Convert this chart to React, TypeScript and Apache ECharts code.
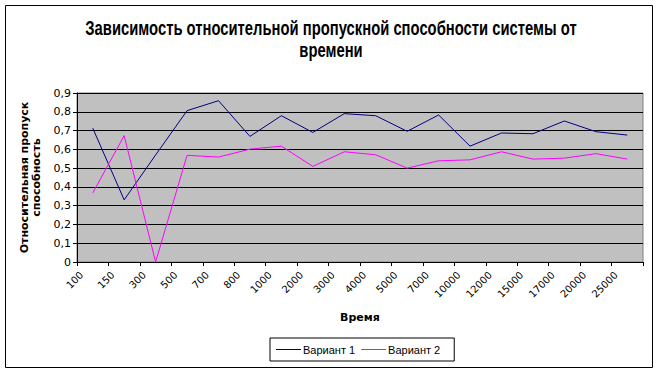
import React, { useEffect, useRef } from "react";
import * as echarts from "echarts";

const categories = ["100", "150", "300", "500", "700", "800", "1000", "2000", "3000", "4000", "5000", "7000", "10000", "12000", "15000", "17000", "20000", "25000"];
const variant1 = [0.713, 0.331, 0.57, 0.806, 0.859, 0.669, 0.779, 0.69, 0.79, 0.779, 0.696, 0.783, 0.617, 0.687, 0.683, 0.751, 0.694, 0.676];
const variant2 = [0.367, 0.673, 0.0, 0.568, 0.559, 0.601, 0.617, 0.509, 0.587, 0.571, 0.5, 0.539, 0.544, 0.587, 0.548, 0.553, 0.577, 0.548];
const titleLines = ["Зависимость относительной пропускной способности системы от", "времени"];
const seriesNames = ["Вариант 1", "Вариант 2"];

const TITLE_FONT = 'bold 21px "Liberation Sans", Arial, sans-serif';

function measure(text: string, font: string): number {
  const c = document.createElement("canvas");
  const ctx = c.getContext("2d");
  if (!ctx) return text.length * 11;
  ctx.font = font;
  return ctx.measureText(text).width;
}

export default function App() {
  const ref = useRef<HTMLDivElement>(null);
  useEffect(() => {
    document.body.style.margin = "0";
    if (!ref.current) return;
    const chart = echarts.init(ref.current, null, { renderer: "svg" });
    const w1 = measure(titleLines[0], TITLE_FONT);
    const sx = 492 / w1;
    chart.setOption({
      animation: false,
      backgroundColor: "#ffffff",
      graphic: [
        {
          type: "rect",
          shape: { x: 5.5, y: 5.5, width: 647, height: 362 },
          style: { fill: "none", stroke: "#000", lineWidth: 1 },
          silent: true,
        },
        {
          type: "text",
          x: 331,
          y: 28,
          scaleX: sx,
          style: { text: titleLines[0], font: TITLE_FONT, fill: "#000", textAlign: "center", textVerticalAlign: "middle" },
        },
        {
          type: "text",
          x: 331,
          y: 50,
          scaleX: sx,
          style: { text: titleLines[1], font: TITLE_FONT, fill: "#000", textAlign: "center", textVerticalAlign: "middle" },
        },
      ],
      grid: {
        left: 77,
        top: 93,
        width: 566,
        height: 169,
        show: true,
        backgroundColor: "#c0c0c0",
        borderColor: "#808080",
        borderWidth: 1,
        containLabel: false,
      },
      legend: {
        data: seriesNames,
        icon: "path://M0,0H25V1H0Z",
        left: 270,
        top: 338,
        orient: "horizontal",
        borderColor: "#000",
        borderWidth: 1,
        borderRadius: 0,
        padding: [6, 14, 6, 6],
        itemWidth: 25,
        itemHeight: 12,
        itemGap: 6,
        textStyle: { fontFamily: '"Liberation Sans", Arial, sans-serif', fontSize: 11, color: "#000", padding: [0, 0, 0, -3] },
      },
      xAxis: {
        type: "category",
        data: categories,
        boundaryGap: true,
        name: "Время",
        nameLocation: "middle",
        nameGap: 50,
        nameTextStyle: { fontFamily: "DejaVu Sans", fontWeight: "bold", fontSize: 11, color: "#000" },
        axisLine: { show: true, lineStyle: { color: "#000", width: 1 } },
        axisTick: { show: true, alignWithLabel: false, interval: 0, length: 4, lineStyle: { color: "#000" } },
        axisLabel: {
          interval: 0,
          rotate: 45,
          margin: 0,
          padding: [7, 16, 0, 0],
          fontFamily: "DejaVu Sans",
          fontSize: 10,
          color: "#000",
        },
        splitLine: { show: false },
      },
      yAxis: {
        type: "value",
        min: 0,
        max: 0.9,
        interval: 0.1,
        name: "Относительная пропуск\nспособность",
        nameLocation: "middle",
        nameGap: 29,
        nameRotate: 90,
        nameTextStyle: { fontFamily: "DejaVu Sans", fontWeight: "bold", fontSize: 11, color: "#000", lineHeight: 12 },
        axisLine: { show: true, lineStyle: { color: "#000", width: 1 } },
        axisTick: { show: true, length: 4, lineStyle: { color: "#000" } },
        axisLabel: {
          margin: 6,
          fontFamily: "DejaVu Sans",
          fontSize: 11,
          color: "#000",
          formatter: (v: number) => (Math.round(v * 10) / 10).toString().replace(".", ","),
        },
        splitLine: { show: true, lineStyle: { color: "#000", width: 1 } },
      },
      series: [
        {
          name: seriesNames[0],
          type: "line",
          data: variant1,
          symbol: "none",
          lineStyle: { color: "#000080", width: 1 },
          itemStyle: { color: "#000080" },
        },
        {
          name: seriesNames[1],
          type: "line",
          data: variant2,
          symbol: "none",
          lineStyle: { color: "#ff00ff", width: 1 },
          itemStyle: { color: "#ff00ff" },
        },
      ],
    });
    return () => chart.dispose();
  }, []);
  return <div ref={ref} style={{ width: 659, height: 372 }} />;
}
